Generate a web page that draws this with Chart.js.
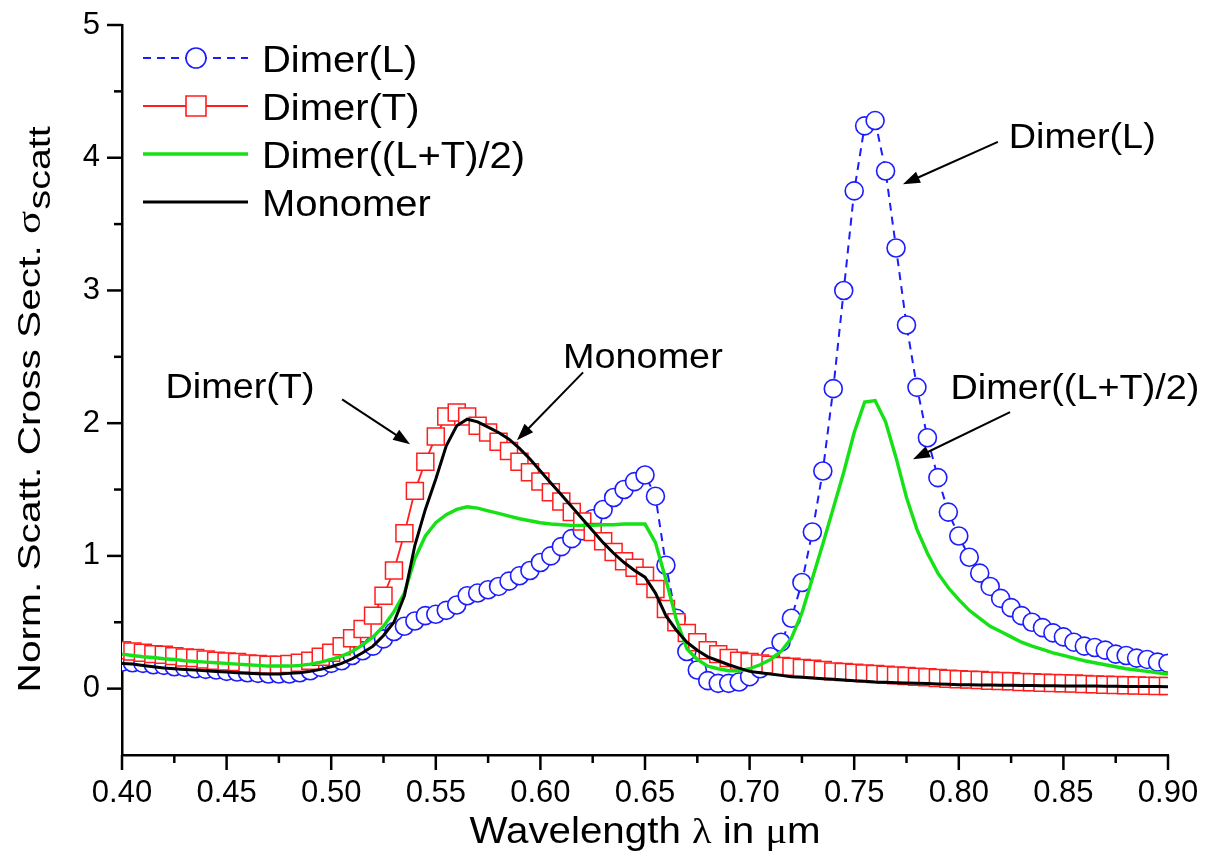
<!DOCTYPE html>
<html>
<head>
<meta charset="utf-8">
<script src="https://cdn.jsdelivr.net/npm/chart.js@4.4.1/dist/chart.umd.min.js"></script>
<style>
html,body{margin:0;padding:0;background:#ffffff;}
#wrap{width:1207px;height:862px;position:relative;}
</style>
</head>
<body>
<div id="wrap"><canvas id="c" width="1207" height="862"></canvas></div>
<script>
// ---------- data ----------
const wavelength = [
  0.400,0.405,0.410,0.415,0.420,0.425,0.430,0.435,0.440,0.445,
  0.450,0.455,0.460,0.465,0.470,0.475,0.480,0.485,0.490,0.495,
  0.500,0.505,0.510,0.515,0.520,0.525,0.530,0.535,0.540,0.545,
  0.550,0.555,0.560,0.565,0.570,0.575,0.580,0.585,0.590,0.595,
  0.600,0.605,0.610,0.615,0.620,0.625,0.630,0.635,0.640,0.645,
  0.650,0.655,0.660,0.665,0.670,0.675,0.680,0.685,0.690,0.695,
  0.700,0.705,0.710,0.715,0.720,0.725,0.730,0.735,0.740,0.745,
  0.750,0.755,0.760,0.765,0.770,0.775,0.780,0.785,0.790,0.795,
  0.800,0.805,0.810,0.815,0.820,0.825,0.830,0.835,0.840,0.845,
  0.850,0.855,0.860,0.865,0.870,0.875,0.880,0.885,0.890,0.895,
  0.900
];
const dimerL = [
  0.20,0.195,0.19,0.18,0.175,0.165,0.16,0.15,0.145,0.14,
  0.13,0.125,0.12,0.115,0.11,0.11,0.11,0.12,0.135,0.16,
  0.19,0.21,0.25,0.285,0.32,0.375,0.43,0.47,0.51,0.55,
  0.56,0.59,0.63,0.70,0.72,0.745,0.77,0.81,0.85,0.89,
  0.95,1.00,1.07,1.13,1.19,1.28,1.35,1.44,1.50,1.56,
  1.61,1.45,0.93,0.53,0.28,0.14,0.06,0.04,0.04,0.05,
  0.09,0.15,0.24,0.35,0.53,0.80,1.18,1.64,2.26,3.00,
  3.75,4.24,4.28,3.90,3.32,2.74,2.27,1.89,1.59,1.33,
  1.15,0.99,0.87,0.77,0.68,0.61,0.55,0.50,0.46,0.42,
  0.39,0.35,0.32,0.31,0.29,0.26,0.25,0.23,0.22,0.20,
  0.19
];
const dimerT = [
  0.29,0.28,0.27,0.26,0.255,0.245,0.235,0.23,0.22,0.21,
  0.205,0.20,0.19,0.185,0.18,0.18,0.185,0.195,0.21,0.24,
  0.27,0.32,0.38,0.45,0.55,0.70,0.89,1.17,1.49,1.71,
  1.90,2.05,2.08,2.05,1.98,1.93,1.86,1.79,1.71,1.63,
  1.56,1.48,1.41,1.33,1.26,1.18,1.11,1.03,0.96,0.91,
  0.85,0.75,0.60,0.50,0.42,0.35,0.29,0.26,0.23,0.21,
  0.20,0.19,0.18,0.17,0.165,0.155,0.15,0.14,0.13,0.125,
  0.12,0.115,0.11,0.105,0.10,0.095,0.09,0.085,0.08,0.075,
  0.07,0.068,0.065,0.06,0.058,0.055,0.05,0.048,0.045,0.043,
  0.04,0.038,0.035,0.032,0.03,0.028,0.025,0.024,0.022,0.02,
  0.02
];
const dimerAvg = [
  0.26,0.25,0.24,0.235,0.225,0.22,0.21,0.205,0.20,0.195,
  0.19,0.185,0.18,0.175,0.17,0.17,0.17,0.175,0.185,0.20,
  0.22,0.245,0.28,0.33,0.39,0.47,0.58,0.72,0.98,1.15,
  1.25,1.31,1.35,1.37,1.36,1.34,1.32,1.30,1.28,1.265,
  1.25,1.24,1.235,1.23,1.23,1.23,1.235,1.235,1.24,1.24,
  1.24,1.10,0.82,0.52,0.30,0.22,0.17,0.15,0.135,0.135,
  0.15,0.18,0.22,0.28,0.38,0.57,0.83,1.09,1.36,1.63,
  1.93,2.16,2.17,2.01,1.74,1.44,1.20,1.02,0.87,0.76,
  0.67,0.59,0.53,0.47,0.43,0.39,0.35,0.32,0.295,0.27,
  0.25,0.23,0.21,0.195,0.18,0.165,0.15,0.14,0.13,0.12,
  0.11
];
const monomer = [
  0.19,0.185,0.175,0.165,0.155,0.15,0.145,0.14,0.135,0.13,
  0.125,0.12,0.115,0.113,0.11,0.11,0.115,0.12,0.13,0.145,
  0.165,0.19,0.225,0.27,0.32,0.40,0.50,0.70,1.08,1.35,
  1.58,1.83,1.98,2.03,2.01,1.97,1.93,1.88,1.81,1.73,
  1.64,1.55,1.46,1.37,1.28,1.19,1.10,1.02,0.95,0.89,
  0.84,0.72,0.55,0.44,0.35,0.29,0.24,0.21,0.18,0.155,
  0.13,0.12,0.11,0.10,0.09,0.085,0.08,0.075,0.07,0.065,
  0.06,0.055,0.05,0.048,0.045,0.042,0.04,0.038,0.035,0.033,
  0.03,0.029,0.028,0.027,0.026,0.025,0.024,0.023,0.022,0.021,
  0.02,0.02,0.019,0.019,0.018,0.018,0.017,0.017,0.016,0.016,
  0.015
];
const seriesLabels = ['Dimer(L)', 'Dimer(T)', 'Dimer((L+T)/2)', 'Monomer'];
const xTicks = [0.40,0.45,0.50,0.55,0.60,0.65,0.70,0.75,0.80,0.85,0.90];
const yTicks = [0,1,2,3,4,5];
const xTitle = ['Wavelength ', 'λ', ' in ', 'μ', 'm'];
const yTitle = ['Norm. Scatt. Cross Sect. ', 'σ', 'scatt'];

// annotation labels with arrows (data coordinates)
const annotations = [
  {text:'Dimer(L)',       at:[0.859, 4.17], from:[0.8187, 4.12], to:[0.7733, 3.80]},
  {text:'Dimer(T)',       at:[0.4564,2.286], from:[0.5052, 2.18], to:[0.5377, 1.842]},
  {text:'Monomer',        at:[0.649, 2.511], from:[0.6204, 2.383], to:[0.5888, 1.872]},
  {text:'Dimer((L+T)/2)', at:[0.8555,2.278], from:[0.8245, 2.083], to:[0.7781, 1.729]}
];

// ---------- styling ----------
const SANS = "'Liberation Sans', Arial, Helvetica, sans-serif";
const SERIF = "'Liberation Serif', 'Times New Roman', serif";
const BLUE = '#1c1cff', RED = '#ff1e1e', GREEN = '#16e016', BLACK = '#000000';

function pts(ys){ return wavelength.map((x,i)=>({x:x, y:ys[i]})); }

function stretchText(ctx, str, x, y, size, family, align, sx){
  ctx.save();
  ctx.font = size + 'px ' + family;
  ctx.translate(x, y);
  ctx.scale(sx, 1);
  ctx.textAlign = align;
  ctx.textBaseline = 'alphabetic';
  ctx.fillText(str, 0, 0);
  ctx.restore();
}

function drawMarker(ctx, style, x, y, r, color, lw){
  ctx.save();
  ctx.setLineDash([]);
  ctx.fillStyle = '#ffffff';
  ctx.strokeStyle = color;
  ctx.lineWidth = lw;
  ctx.beginPath();
  if (style === 'circle') ctx.arc(x, y, r, 0, Math.PI*2);
  else ctx.rect(x - r, y - r, 2*r, 2*r);
  ctx.fill(); ctx.stroke();
  ctx.restore();
}

const decorPlugin = {
  id: 'decor',
  afterDraw(chart){
    const ctx = chart.ctx;
    const xs = chart.scales.x, ys = chart.scales.y;
    const area = chart.chartArea;
    ctx.save();
    ctx.strokeStyle = '#000';
    ctx.lineWidth = 2.5;
    ctx.setLineDash([]);
    // x ticks (major + minor)
    for (let i = 0; i < xTicks.length; i++){
      const px = xs.getPixelForValue(xTicks[i]);
      ctx.beginPath(); ctx.moveTo(px, area.bottom); ctx.lineTo(px, area.bottom + 15); ctx.stroke();
      if (i < xTicks.length - 1){
        const mx = xs.getPixelForValue((xTicks[i] + xTicks[i+1]) / 2);
        ctx.beginPath(); ctx.moveTo(mx, area.bottom); ctx.lineTo(mx, area.bottom + 8); ctx.stroke();
      }
    }
    // y ticks (major + minor)
    for (let i = 0; i < yTicks.length; i++){
      const py = ys.getPixelForValue(yTicks[i]);
      ctx.beginPath(); ctx.moveTo(area.left - 15, py); ctx.lineTo(area.left, py); ctx.stroke();
      if (i < yTicks.length - 1){
        const my = ys.getPixelForValue((yTicks[i] + yTicks[i+1]) / 2);
        ctx.beginPath(); ctx.moveTo(area.left - 8, my); ctx.lineTo(area.left, my); ctx.stroke();
      }
    }
    ctx.restore();

    // ---- axis titles ----
    ctx.save();
    ctx.fillStyle = '#000';
    // x title
    const xFonts = [SANS, SERIF, SANS, SERIF, SANS];
    const xSize = 36, xsx = 1.12;
    let widths = xTitle.map((t,i)=>{ ctx.font = xSize + 'px ' + xFonts[i]; return ctx.measureText(t).width; });
    let total = widths.reduce((a,b)=>a+b,0) * xsx;
    let cx = (area.left + area.right)/2 - total/2;
    for (let i = 0; i < xTitle.length; i++){
      stretchText(ctx, xTitle[i], cx, 843, xSize, xFonts[i], 'left', xsx);
      cx += widths[i] * xsx;
    }
    // y title (rotated)
    const ySize = 32, subSize = 31, ysx = 1.27;
    ctx.translate(40, 410);
    ctx.rotate(-Math.PI/2);
    ctx.scale(ysx, 1);
    ctx.textAlign = 'left';
    ctx.textBaseline = 'alphabetic';
    ctx.font = ySize + 'px ' + SANS; const w1 = ctx.measureText(yTitle[0]).width;
    ctx.font = (ySize + 2) + 'px ' + SERIF; const w2 = ctx.measureText(yTitle[1]).width;
    ctx.font = subSize + 'px ' + SANS; const w3 = ctx.measureText(yTitle[2]).width;
    let sx0 = -(w1 + w2 + w3)/2;
    ctx.font = ySize + 'px ' + SANS; ctx.fillText(yTitle[0], sx0, 0);
    ctx.font = (ySize + 2) + 'px ' + SERIF; ctx.fillText(yTitle[1], sx0 + w1, 0);
    ctx.font = subSize + 'px ' + SANS; ctx.fillText(yTitle[2], sx0 + w1 + w2 + 1, 10);
    ctx.restore();

    // ---- legend ----
    const rowY0 = 58, rowDy = 48;
    chart.data.datasets.forEach((ds, i) => {
      const y = rowY0 + i*rowDy;
      ctx.save();
      ctx.strokeStyle = ds.borderColor;
      ctx.lineWidth = ds.borderWidth;
      ctx.setLineDash(ds.borderDash || []);
      ctx.beginPath(); ctx.moveTo(143, y); ctx.lineTo(248, y); ctx.stroke();
      ctx.restore();
      if (ds.pointRadius > 0){
        drawMarker(ctx, ds.pointStyle, 196, y, 10, ds.borderColor, 1.6);
      }
      ctx.fillStyle = '#000';
      stretchText(ctx, ds.label, 262, y + 13.5, 37, SANS, 'left', 1.08);
    });

    // ---- annotations with arrows ----
    annotations.forEach(a => {
      const tx = xs.getPixelForValue(a.at[0]), ty = ys.getPixelForValue(a.at[1]);
      ctx.fillStyle = '#000';
      stretchText(ctx, a.text, tx, ty + 12.5, 35, SANS, 'center', 1.08);
      const x1 = xs.getPixelForValue(a.from[0]), y1 = ys.getPixelForValue(a.from[1]);
      const x2 = xs.getPixelForValue(a.to[0]), y2 = ys.getPixelForValue(a.to[1]);
      const ang = Math.atan2(y2 - y1, x2 - x1);
      const hl = 17, hw = 6;
      ctx.save();
      ctx.strokeStyle = '#000'; ctx.fillStyle = '#000'; ctx.lineWidth = 2;
      ctx.beginPath(); ctx.moveTo(x1, y1);
      ctx.lineTo(x2 - Math.cos(ang)*hl*0.8, y2 - Math.sin(ang)*hl*0.8); ctx.stroke();
      ctx.beginPath();
      ctx.moveTo(x2, y2);
      ctx.lineTo(x2 - Math.cos(ang)*hl - Math.sin(ang)*hw, y2 - Math.sin(ang)*hl + Math.cos(ang)*hw);
      ctx.lineTo(x2 - Math.cos(ang)*hl + Math.sin(ang)*hw, y2 - Math.sin(ang)*hl - Math.cos(ang)*hw);
      ctx.closePath(); ctx.fill();
      ctx.restore();
    });
  }
};

const chart = new Chart(document.getElementById('c'), {
  type: 'line',
  data: {
    datasets: [
      {label: seriesLabels[0], data: pts(dimerL), borderColor: BLUE, borderWidth: 2, borderDash: [8, 6],
       pointStyle: 'circle', pointRadius: 9, pointBorderWidth: 1.6, pointBackgroundColor: '#ffffff',
       pointBorderColor: BLUE, order: 4},
      {label: seriesLabels[1], data: pts(dimerT), borderColor: RED, borderWidth: 1.8,
       pointStyle: 'rect', pointRadius: 12, pointBorderWidth: 1.5, pointBackgroundColor: '#ffffff',
       pointBorderColor: RED, order: 3},
      {label: seriesLabels[2], data: pts(dimerAvg), borderColor: GREEN, borderWidth: 3.4, pointRadius: 0, order: 2},
      {label: seriesLabels[3], data: pts(monomer), borderColor: BLACK, borderWidth: 3, pointRadius: 0, order: 1}
    ]
  },
  options: {
    responsive: false,
    animation: false,
    devicePixelRatio: 1,
    events: [],
    layout: {padding: {left: 0, right: 39, top: 25, bottom: 0}},
    elements: {line: {tension: 0, fill: false}},
    plugins: {legend: {display: false}, tooltip: {enabled: false}},
    scales: {
      x: {
        type: 'linear', min: 0.40, max: 0.90,
        afterBuildTicks: s => { s.ticks = xTicks.map(v => ({value: v})); },
        afterFit: s => { s.height = 107; s.paddingLeft = 0; s.paddingRight = 0; },
        ticks: {callback: v => Number(v).toFixed(2), color: '#000', padding: 20, maxRotation: 0, autoSkip: false,
                font: {family: SANS, size: 31}},
        grid: {display: false, drawTicks: false},
        border: {display: true, color: '#000', width: 2.5}
      },
      y: {
        type: 'linear', min: -0.5, max: 5,
        afterBuildTicks: s => { s.ticks = yTicks.map(v => ({value: v})); },
        afterFit: s => { s.width = 122; s.paddingTop = 0; s.paddingBottom = 0; },
        ticks: {callback: v => String(v), color: '#000', padding: 22, font: {family: SANS, size: 31}},
        grid: {display: false, drawTicks: false},
        border: {display: true, color: '#000', width: 2.5}
      }
    }
  },
  plugins: [decorPlugin]
});
</script>
</body>
</html>
